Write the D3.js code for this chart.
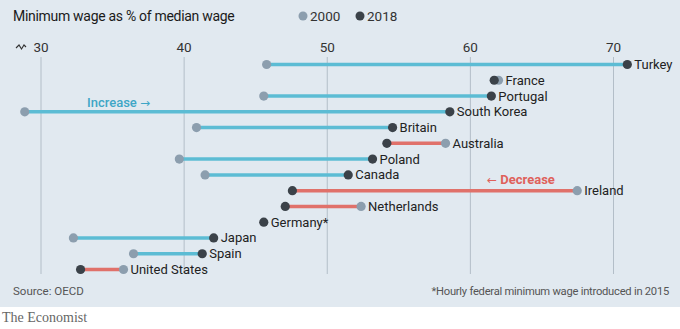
<!DOCTYPE html>
<html>
<head>
<meta charset="utf-8">
<script src="https://cdn.jsdelivr.net/npm/d3@7"></script>
<style>
	body { margin: 0; background: #fff; }
	svg { display: block; font-family: Roboto, "Open Sans", sans-serif; }
</style>
</head>
<body>
<svg id="chart"></svg>
<script>
// data
const countries = ["Turkey", "France", "Portugal", "South Korea", "Britain", "Australia", "Poland",
	"Canada", "Ireland", "Netherlands", "Germany*", "Japan", "Spain", "United States"];
const wage2000 = [45.8, 62.0, 45.6, 28.9, 40.9, 58.3, 39.7, 41.5, 67.5, 52.4, null, 32.3, 36.5, 35.8];
const wage2018 = [71.0, 61.7, 61.5, 58.6, 54.6, 54.2, 53.2, 51.5, 47.6, 47.1, 45.6, 42.1, 41.3, 32.8];
const xTicks = [30, 40, 50, 60, 70];

const width = 680, height = 329;
const bgColor = "#e1e9f0";
const blue = "#5cbcd4", red = "#e0716a";
const grey = "#8c9eae", dark = "#3b4249";

const data = countries.map((c, i) => ({ name: c, v0: wage2000[i], v1: wage2018[i] }));

const svg = d3.select("#chart").attr("width", width).attr("height", height);

svg.append("rect").attr("width", width).attr("height", 307).attr("fill", bgColor);

const x = d3.scaleLinear().domain([30, 70]).range([40.5, 613]);
const y = d3.scalePoint().domain(countries).range([64.5, 269.5]);

// title
svg.append("text")
	.attr("x", 13).attr("y", 21)
	.style("font-size", "14px").style("letter-spacing", "-0.3px").attr("fill", "#1a1a1a")
	.text("Minimum wage as % of median wage");

// legend
const legend = [["2000", grey, 303], ["2018", dark, 360]];
legend.forEach(([label, col, lx]) => {
	svg.append("circle").attr("cx", lx).attr("cy", 16).attr("r", 4.5).attr("fill", col);
	svg.append("text").attr("x", lx + 7).attr("y", 21)
		.style("font-size", "13.5px").attr("fill", "#333").text(label);
});

// gridlines + axis
const xAxis = d3.axisTop(x).tickValues(xTicks).tickSize(-(274 - 57)).tickPadding(5);
const gx = svg.append("g").attr("transform", "translate(0,57)").call(xAxis);
gx.select(".domain").remove();
gx.selectAll("line").attr("stroke", "#b3bec8").attr("stroke-width", 1);
gx.selectAll("text").attr("fill", "#333").style("font-size", "13.5px")
	.style("font-family", "Roboto, sans-serif");

// broken axis squiggle
svg.append("path")
	.attr("d", "M16,48 L19,45 L21.5,49 L24,45 L26,47")
	.attr("fill", "none").attr("stroke", "#333").attr("stroke-width", 1.1);

// connecting lines
svg.append("g").selectAll("line")
	.data(data.filter((d) => d.v0 != null))
	.join("line")
	.attr("x1", (d) => x(d.v0))
	.attr("x2", (d) => x(d.v1))
	.attr("y1", (d) => y(d.name))
	.attr("y2", (d) => y(d.name))
	.attr("stroke", (d) => (d.v1 >= d.v0 ? blue : red))
	.attr("stroke-width", 3.5);

// dots
svg.append("g").selectAll("circle")
	.data(data.filter((d) => d.v0 != null))
	.join("circle")
	.attr("cx", (d) => x(d.v0))
	.attr("cy", (d) => y(d.name))
	.attr("r", 4.6)
	.attr("fill", grey);

svg.append("g").selectAll("circle")
	.data(data)
	.join("circle")
	.attr("cx", (d) => x(d.v1))
	.attr("cy", (d) => y(d.name))
	.attr("r", 4.6)
	.attr("fill", dark);

// country labels
svg.append("g").selectAll("text")
	.data(data)
	.join("text")
	.attr("x", (d) => x(d.v0 == null ? d.v1 : Math.max(d.v0, d.v1)) + 7)
	.attr("y", (d) => y(d.name) + 4.5)
	.style("font-size", "13px")
	.attr("fill", "#222")
	.text((d) => d.name);

// annotations
const inc = svg.append("text").attr("x", 87).attr("y", 107)
	.style("font-size", "13px").style("font-weight", 500).attr("fill", "#3ea6c6");
inc.append("tspan").text("Increase ");
inc.append("tspan").style("font-family", "'DejaVu Sans', sans-serif").style("font-size", "12px").text("\u2192");

const dec = svg.append("text").attr("x", 487).attr("y", 184)
	.style("font-size", "13px").style("font-weight", 700).attr("fill", "#df615b");
dec.append("tspan").style("font-family", "'DejaVu Sans', sans-serif").style("font-size", "12px")
	.style("font-weight", 400).text("\u2190");
dec.append("tspan").text(" Decrease");

// footer
svg.append("text").attr("x", 13).attr("y", 295)
	.style("font-size", "11.5px").attr("fill", "#555").text("Source: OECD");
svg.append("text").attr("x", 669).attr("y", 295).attr("text-anchor", "end")
	.style("font-size", "11.2px").style("letter-spacing", "-0.25px").attr("fill", "#555")
	.text("*Hourly federal minimum wage introduced in 2015");

svg.append("text").attr("x", 2).attr("y", 322)
	.style("font-family", "'Liberation Serif', 'DejaVu Serif', serif")
	.style("font-size", "14px").attr("fill", "#666")
	.text("The Economist");
</script>
</body>
</html>
